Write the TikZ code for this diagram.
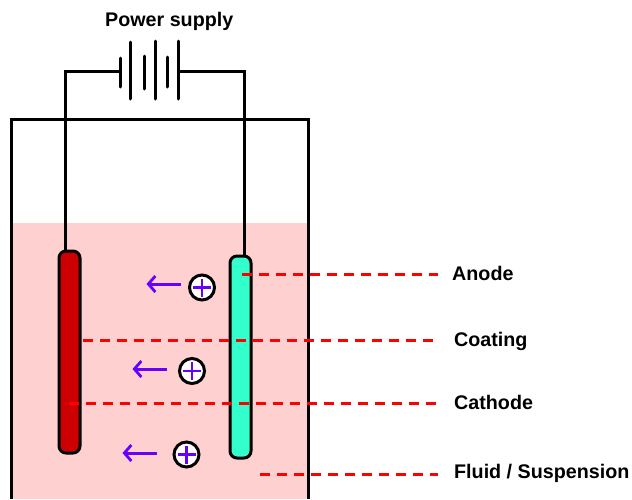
\documentclass[tikz,border=0pt]{standalone}
\usepackage{fontspec}
\setmainfont{Liberation Sans}
\usetikzlibrary{arrows.meta}
\definecolor{fluid}{RGB}{255,208,208}
\definecolor{cathodecol}{RGB}{204,0,0}
\definecolor{anodecol}{RGB}{51,255,204}
\definecolor{ioncol}{RGB}{102,0,255}
\tikzset{
  wire/.style={draw=black,line width=3pt},
  plate/.style={draw=black,line width=3pt,line cap=round},
  electrode/.style={draw=black,line width=3pt,rounded corners=7pt,minimum width=21pt,inner sep=0pt,outer sep=0pt},
  ion/.style={circle,draw=black,fill=white,line width=3pt,minimum size=25pt,inner sep=0pt},
  ionarrow/.style={draw=ioncol,line width=3pt,-{Straight Barb[length=7pt,width=16pt,line width=2.8pt]}},
  ionplus/.style={draw=ioncol,line width=2.8pt},
  leader/.style={draw=red,line width=3pt,dash pattern=on 10pt off 7pt},
  lbl/.style={font=\bfseries\fontsize{19.7}{22}\selectfont,anchor=base west,inner sep=0pt,text=black}
}
\begin{document}
\begin{tikzpicture}[x=1pt,y=-1pt]
\useasboundingbox (0,0) rectangle (632,499);
% fluid
\fill[fluid] (11,223) rectangle (308,499);
% vessel
\coordinate (vbl) at (11,499);
\coordinate (vtl) at (11,119);
\coordinate (vtr) at (308,119);
\coordinate (vbr) at (308,499);
\draw[wire] (vbl) -- (vtl) -- (vtr) -- (vbr);
% electrodes
\node[electrode,fill=cathodecol,minimum height=202pt] (cathode) at (69.5,352) {};
\node[electrode,fill=anodecol,minimum height=202pt] (anode) at (240.5,357) {};
% battery plates
\foreach \n/\x/\a/\b in {p1/120/58/87,p2/130.5/42/99,p3/144/56/89,p4/155/41/99,p5/167.5/57/87,p6/178.5/41/99}{
  \coordinate (\n t) at (\x,\a);
  \coordinate (\n b) at (\x,\b);
  \draw[plate] (\n t) -- (\n b);
}
\coordinate (p1m) at (120,71.5);
\coordinate (p6m) at (178.5,71.5);
% wires
\draw[wire] (p1m) -- (65.5,71.5) -- (65.5,250);
\draw[wire] (p6m) -- (244,71.5) -- (244,255);
% ions
\foreach \n/\cx/\cy/\ay/\sx/\ex in {a/202/287.5/284/181/146.5/,b/192/371/369/167/132.5/,c/186.5/454.5/453/157/122.5/}{
  \node[ion] (ion\n) at (\cx,\cy) {};
  \draw[ionplus] ([xshift=-9pt]ion\n.center) -- ([xshift=9pt]ion\n.center);
  \draw[ionplus] ([yshift=-9pt]ion\n.center) -- ([yshift=9pt]ion\n.center);
  \coordinate (s\n) at (\sx,\ay);
  \coordinate (e\n) at (\ex,\ay);
  \draw[ionarrow] (s\n) -- (e\n);
}
% labels
\node[lbl] (ps) at (105,26.5) {Power supply};
\node[lbl] (lanode) at (452,280) {Anode};
\node[lbl] (lcoat) at (454,346.5) {Coating};
\node[lbl] (lcath) at (454,409) {Cathode};
\node[lbl] (lfluid) at (454,478.5) {Fluid / Suspension};
% leaders
\coordinate (da) at (242,274.5);
\coordinate (db) at (83,340);
\coordinate (dc) at (69,403);
\coordinate (dd) at (260,474);
\coordinate (ea) at (438,274.5);
\coordinate (eb) at (435,340);
\coordinate (ec) at (438,403);
\coordinate (ed) at (438,474);
\draw[leader] (da) -- (ea);
\draw[leader] (db) -- (eb);
\draw[leader] (dc) -- (ec);
\draw[leader] (dd) -- (ed);
\end{tikzpicture}
\end{document}
